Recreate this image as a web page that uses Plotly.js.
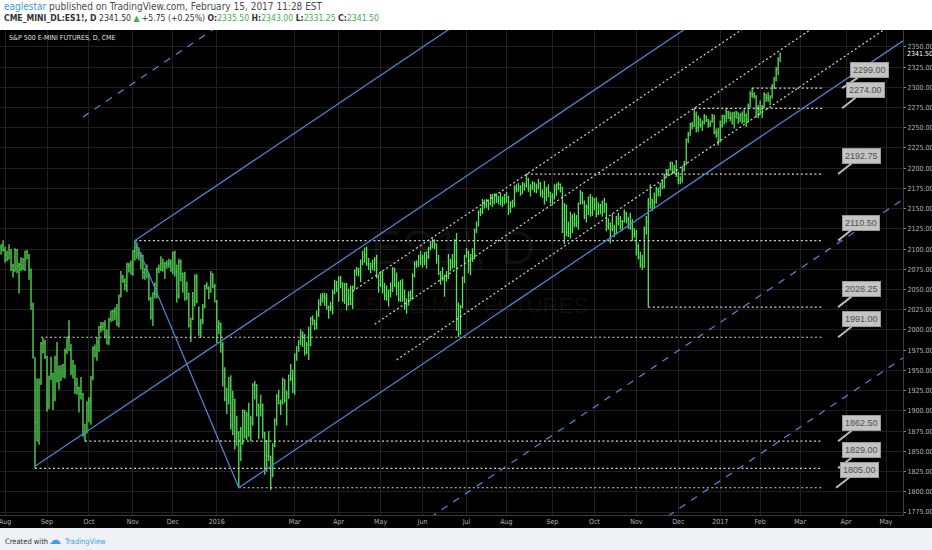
<!DOCTYPE html>
<html><head><meta charset="utf-8">
<script src="https://cdn.plot.ly/plotly-3.0.1.min.js"></script>
<style>html,body{margin:0;padding:0;background:#000;overflow:hidden}#chart{width:932px;height:550px}</style>
</head><body><div id="chart"></div>
<script>
// ---------------- DATA ----------------
const firstBarDate = '2015-07-29';
const holidays = ['2015-09-07','2015-11-26','2015-12-25','2016-01-01','2016-01-18','2016-02-15','2016-03-25','2016-05-30','2016-07-04','2016-09-05','2016-11-24','2016-12-26','2017-01-02','2017-01-16'];

const barOpen = [
/*Jul15*/2093,2102,2104,
/*Aug15*/2099,2093,2088,2095,2079,2073,2099,2079,2081,2078,2087,2097,2092,2074,2031,1966,1886,1863,1935,1983,1984,
/*Sep15*/1967,1909,1943,1946,1916,1965,1937,1947,1956,1948,1974,1991,1975,1948,1956,1933,1928,1922,1921,1871,1874,
/*Oct15*/1910,1913,1941,1977,1969,1985,2003,2004,2007,1993,1984,2013,2023,2023,2020,2008,2042,2065,2061,2055,2080,2079,
/*Nov15*/2069,2097,2102,2094,2092,2092,2071,2074,2068,2038,2016,2046,2044,2076,2074,2082,2079,2082,2081,2083,
/*Dec15*/2073,2095,2072,2042,2084,2070,2056,2040,2045,2005,2014,2036,2066,2028,1997,2012,2029,2055,2052,2047,2069,2054,
/*Jan16*/2035,2004,2008,1982,1935,1914,1916,1931,1882,1914,1872,1873,1851,1860,1898,1869,1895,1874,1885,
/*Feb16*/1932,1932,1895,1905,1907,1872,1845,1844,1843,1821,1857,1888,1918,1910,1910,1938,1913,1922,1944,1940,
/*Mar16*/1924,1970,1979,1986,1992,1994,1972,1982,1981,2014,2012,2008,2025,2032,2040,2042,2040,2027,2029,2028,2046,2055,
/*Apr16*/2051,2064,2058,2036,2057,2032,2039,2032,2053,2073,2074,2072,2085,2091,2093,2082,2082,2079,2082,2086,2066,
/*May16*/2056,2072,2054,2042,2041,2048,2049,2075,2055,2055,2038,2057,2038,2038,2031,2043,2039,2067,2081,2081,2090,
/*Jun16*/2088,2090,2096,2090,2101,2103,2110,2106,2087,2070,2066,2063,2068,2065,2077,2082,2079,2107,2031,1995,2029,2064,
/*Jul16*/2092,2096,2081,2093,2091,2123,2130,2145,2145,2156,2155,2159,2156,2166,2158,2168,2162,2162,2160,2163,
/*Aug16*/2167,2164,2150,2157,2157,2176,2174,2176,2169,2180,2178,2186,2174,2177,2181,2178,2177,2181,2170,2169,2164,2174,2170,
/*Sep16*/2165,2165,2174,2180,2180,2176,2122,2154,2121,2119,2140,2132,2131,2132,2157,2170,2158,2139,2152,2164,2145,
/*Oct16*/2161,2154,2144,2153,2154,2146,2156,2129,2132,2125,2126,2119,2132,2137,2134,2134,2144,2136,2132,2126,2119,
/*Nov16*/2119,2104,2090,2081,2078,2125,2134,2156,2161,2158,2158,2174,2171,2181,2177,2192,2197,2198,2207,2196,2199,
/*Dec16*/2193,2185,2186,2198,2206,2235,2241,2254,2253,2266,2250,2254,2253,2256,2264,2259,2255,2258,2262,2244,2244,
/*Jan17*/2233,2252,2264,2263,2270,2262,2262,2268,2264,2268,2262,2266,2258,2265,2260,2276,2292,2291,2289,2275,
/*Feb17*/2273,2274,2276,2291,2287,2287,2289,2301,2310,2322,2335.5
];
const barHigh = [
/*Jul15*/2105,2106,2111,
/*Aug15*/2103,2098,2106,2100,2082,2101,2100,2083,2090,2089,2098,2099,2094,2076,2034,1966,1940,1940,1985,1990,1988,
/*Sep15*/1968,1943,1967,1947,1968,1985,1956,1956,1958,1977,1992,2012,1983,1963,1957,1941,1930,1942,1922,1884,1912,
/*Oct15*/1917,1943,1980,1982,1991,2005,2010,2010,2012,2001,2015,2024,2025,2028,2032,2044,2073,2068,2064,2083,2083,2086,
/*Nov15*/2099,2110.5,2108,2102,2096,2093,2077,2081,2070,2041,2046,2059,2077,2081,2091,2088,2084,2086,2088,2087,
/*Dec15*/2097,2098,2081,2088,2087,2071,2072,2060,2046,2015,2047,2069,2069,2029,2014,2032,2056,2059,2054,2073,2070,2057,
/*Jan16*/2037,2012,2009,1985,1954,1929,1942,1944,1925,1915,1894,1875,1880,1902,1901,1899,1910,1894,1934,
/*Feb16*/1937,1933,1909,1920,1909,1874,1864,1875,1845,1860,1891,1921,1926,1914,1941,1939,1925,1945,1958,1951,
/*Mar16*/1971,1980,1988,2001,1998,1995,1985,2004,2016,2018,2013,2024,2038,2045,2046,2046,2045,2030,2035,2050,2062,2061,
/*Apr16*/2066,2067,2059,2058,2058,2051,2055,2055,2075,2078,2077,2087,2098,2102,2103,2089,2083,2087,2090,2093,2069,
/*May16*/2073,2072,2058,2055,2050,2059,2078,2077,2071,2060,2062,2063,2050,2039,2048,2049,2070,2085,2086,2093,2098,
/*Jun16*/2093,2096,2097,2103,2110,2113,2112,2107,2093,2073,2078,2068,2073,2094,2088,2094,2112,2120,2034,2031,2066,2093,
/*Jul16*/2101,2098,2094,2101,2125,2134,2148,2151,2162,2161,2162,2160,2168,2168,2169,2169,2166,2170,2165,2168,
/*Aug16*/2171,2166,2159,2161,2179,2180,2182,2179,2183,2182,2192.75,2188,2180,2184,2183,2181,2187,2183,2174,2184,2177,2180,2171,
/*Sep16*/2169,2180,2181,2183,2181,2177,2157,2155,2134,2146,2143,2145,2142,2157,2173,2171,2160,2155,2165,2168,2165,
/*Oct16*/2163,2164,2158,2156,2160,2163,2157,2138,2133,2144,2130,2141,2145,2141,2136,2149,2146,2140,2145,2137,2126,
/*Nov16*/2124,2107,2097,2093,2128,2141,2163,2180,2162,2170,2177,2176,2182,2185,2193,2199,2199,2208,2208,2204,2210,
/*Dec16*/2196,2190,2203,2209,2237,2245,2256,2257,2274,2270,2265,2262,2259,2267,2265,2261,2259,2267,2266,2249,2250,
/*Jan17*/2259,2266,2266,2274,2271,2270,2269,2270,2271,2269,2268,2270,2273,2268,2280,2295,2299,2294,2290,2278,
/*Feb17*/2284,2278,2294,2292,2294,2290,2304,2313,2325,2337,2343
];
const barLow = [
/*Jul15*/2090,2093,2097,
/*Aug15*/2083,2085,2087,2073,2065,2072,2070,2045,2073,2074,2073,2087,2062,2025,1965,1829,1862,1858,1932,1971,1964,
/*Sep15*/1899,1902,1938,1901,1912,1935,1926,1937,1941,1940,1970,1974,1944,1940,1921,1920,1898,1914,1868,1862.5,1872,
/*Oct15*/1886,1883,1938,1966,1962,1973,1997,1999,1990,1982,1981,2010,2011,2012,2005,2003,2040,2058,2049,2047,2071,2069,
/*Nov15*/2067,2086,2088,2086,2075,2063,2062,2064,2036,2013,2005,2039,2039,2070,2073,2072,2063,2076,2077,2072,
/*Dec15*/2069,2066,2034,2039,2060,2046,2036,2037,2003,1985,2012,2029,2033,1993,1990,2007,2027,2050,2038,2046,2052,2034,
/*Jan16*/1984,1995,1972,1930,1912,1896,1908,1877,1870,1852,1857,1805,1838,1858,1866,1864,1868,1862,1882,
/*Feb16*/1914,1893,1865,1893,1866,1821,1825,1838,1802,1818,1855,1882,1908,1895,1908,1910,1882,1915,1937,1922,
/*Mar16*/1920,1962,1973,1981,1979,1968,1970,1963,1980,2006,2000,2001,2016,2030,2034,2030,2025,2014,2023,2019,2044,2047,
/*Apr16*/2035,2052,2035,2032,2024,2030,2031,2026,2050,2067,2066,2059,2080,2083,2079,2074,2070,2074,2073,2064,2046,
/*May16*/2053,2045,2037,2036,2029,2040,2047,2053,2043,2035,2035,2035,2025,2020,2030,2036,2038,2065,2077,2078,2080,
/*Jun16*/2077,2080,2076,2088,2099,2101,2100,2082,2068,2056,2061,2041,2060,2063,2073,2076,2077,1999,1991,1994,2027,2058,
/*Jul16*/2089,2070,2068,2084,2087,2120,2128,2141,2143,2150,2151,2148,2154,2152,2155,2157,2155,2154,2152,2155,
/*Aug16*/2157,2142,2145,2151,2152,2170,2171,2166,2168,2172,2176,2171,2165,2173,2170,2169,2174,2165,2163,2155,2159,2164,2156,
/*Sep16*/2154,2161,2166,2173,2170,2120,2106,2116,2115,2113,2120,2127,2127,2124,2155,2155,2137,2133,2142,2140,2141,
/*Oct16*/2148,2139,2142,2143,2140,2145,2122,2124,2107,2122,2115,2118,2129,2124,2122,2133,2132,2125,2124,2110,2114,
/*Nov16*/2092,2087,2077,2074,2077,2118,2028.25,2150,2147,2150,2156,2165,2165,2174,2175,2189,2190,2197,2193,2193,2189,
/*Dec16*/2180,2180,2182,2196,2204,2231,2240,2248,2251,2244,2245,2250,2246,2254,2257,2250,2251,2256,2242,2238,2228,
/*Jan17*/2232,2250,2254,2256,2261,2258,2254,2249,2261,2255,2257,2255,2256,2251,2257,2275,2287,2286,2263,2262,
/*Feb17*/2266,2262,2274,2282,2282,2278,2286,2298,2307,2315,2331.25
];
const barClose = [
/*Jul15*/2103,2104,2099,
/*Aug15*/2093,2088,2095,2079,2073,2099,2079,2081,2078,2087,2097,2092,2074,2031,1966,1886,1863,1935,1983,1984,1967,
/*Sep15*/1909,1943,1946,1916,1965,1937,1947,1956,1948,1974,1991,1985,1948,1956,1933,1928,1922,1921,1871,1874,1910,
/*Oct15*/1913,1941,1977,1969,1985,2003,2004,2007,1993,1984,2013,2023,2023,2020,2008,2042,2065,2061,2055,2080,2079,2069,
/*Nov15*/2097,2102,2094,2092,2092,2071,2074,2068,2038,2016,2046,2044,2076,2074,2082,2079,2082,2081,2083,2073,
/*Dec15*/2095,2072,2042,2084,2070,2056,2040,2045,2005,2014,2036,2066,2034,1997,2012,2029,2055,2052,2047,2069,2054,2035,
/*Jan16*/2004,2008,1982,1935,1914,1916,1931,1882,1914,1872,1873,1851,1860,1898,1869,1895,1874,1885,1932,
/*Feb16*/1932,1895,1905,1907,1872,1845,1844,1843,1821,1857,1888,1918,1910,1910,1938,1913,1922,1944,1940,1924,
/*Mar16*/1970,1979,1986,1992,1994,1972,1982,1981,2014,2012,2008,2020,2032,2040,2042,2040,2027,2029,2028,2046,2055,2051,
/*Apr16*/2064,2058,2036,2057,2032,2039,2032,2053,2073,2074,2072,2085,2091,2093,2082,2082,2079,2082,2086,2066,2056,
/*May16*/2072,2054,2042,2041,2048,2049,2075,2055,2055,2038,2057,2038,2038,2031,2043,2039,2067,2081,2081,2090,2088,
/*Jun16*/2090,2096,2090,2101,2103,2110,2106,2087,2070,2066,2063,2068,2065,2077,2082,2079,2107,2031,1995,2029,2064,2092,
/*Jul16*/2096,2081,2093,2091,2123,2130,2145,2145,2156,2155,2159,2156,2166,2158,2168,2162,2162,2160,2163,2167,
/*Aug16*/2164,2150,2157,2157,2176,2174,2176,2169,2180,2178,2186,2174,2177,2181,2178,2177,2181,2170,2169,2164,2174,2170,2165,
/*Sep16*/2165,2174,2180,2180,2176,2122,2154,2121,2119,2141,2132,2131,2132,2157,2170,2158,2139,2152,2164,2145,2161,
/*Oct16*/2154,2144,2153,2154,2146,2156,2129,2132,2125,2126,2119,2132,2137,2134,2134,2144,2136,2132,2126,2119,2119,
/*Nov16*/2104,2090,2081,2078,2125,2134,2156,2161,2158,2158,2174,2171,2181,2177,2192,2197,2198,2207,2196,2199,2193,
/*Dec16*/2185,2186,2198,2206,2235,2241,2254,2253,2266,2250,2257,2253,2256,2264,2259,2255,2258,2262,2244,2244,2233,
/*Jan17*/2252,2264,2263,2270,2262,2262,2268,2264,2268,2262,2266,2258,2265,2260,2276,2292,2291,2289,2275,2273,
/*Feb17*/2274,2276,2291,2287,2287,2289,2301,2310,2322,2335.75,2341.5
];

// x-axis month labels
const tickDates = ['2015-08-03','2015-09-01','2015-10-01','2015-11-02','2015-12-01','2016-01-04','2016-03-01','2016-04-01','2016-05-02','2016-06-01','2016-07-01','2016-08-01','2016-09-01','2016-10-03','2016-11-01','2016-12-01','2017-01-03','2017-02-01','2017-03-01','2017-04-03','2017-05-01'];
const tickText  = ['Aug','Sep','Oct','Nov','Dec','2016','Mar','Apr','May','Jun','Jul','Aug','Sep','Oct','Nov','Dec','2017','Feb','Mar','Apr','May'];

// Pitchfork pivots (handle, upper, lower)
const pivotDates  = ['2015-08-24','2015-11-03','2016-01-20'];
const pivotPrices = [1831.5, 2110.5, 1805];
const forkExtraLevels = [-2, 2, 3];   // dashed extension lines (multiples of half-width)

// Dotted parallel channel lines (two anchor points each)
const chanStartDates   = ['2016-04-12','2016-04-27','2016-05-12'];
const chanStartPrices  = [2048, 2007, 1963];
const chanThroughDates = ['2016-10-26','2016-10-26','2016-10-26'];
const chanThroughPrices= [2277, 2219, 2157];

// Horizontal price levels with callout labels
const levelPrices     = [2299, 2274, 2192.75, 2110.5, 2028.25, 1991, 1862.5, 1829, 1805];
const levelStartDates = ['2017-01-26','2016-12-13','2016-08-15','2015-11-03','2016-11-09','2015-08-27','2015-09-29','2015-08-24','2016-01-20'];
const levelEndDate    = '2017-03-16';
const labelTipDates   = ['2017-03-30','2017-03-30','2017-03-28','2017-03-28','2017-03-28','2017-03-28','2017-03-28','2017-03-28','2017-03-27'];

const lastPrice = 2341.5;

// ---------------- BUILD ----------------
function buildCalendar(start, end, hol){
  const out=[], hs=new Set(hol);
  const d=new Date(start+'T00:00:00Z'), e=new Date(end+'T00:00:00Z');
  while(d<=e){
    const wd=d.getUTCDay(), s=d.toISOString().slice(0,10);
    if(wd!==0 && wd!==6 && !hs.has(s)) out.push(s);
    d.setUTCDate(d.getUTCDate()+1);
  }
  return out;
}
const cal = buildCalendar(firstBarDate, '2017-07-31', holidays);
const idx = d => cal.indexOf(d);
const n = Math.min(barOpen.length, barHigh.length, barLow.length, barClose.length);
const xs = []; for(let i=0;i<n;i++) xs.push(i);
const X_END = 480;

const F = '"Liberation Sans Narrow","DejaVu Sans Condensed",Roboto,"Liberation Sans",Arial,sans-serif';
const GREEN = '#55e255';
const BLUE = '#4f7fd0';
const DOT = '#d2d2d2';

const traces = [];
traces.push({
  type:'ohlc', x:xs, open:barOpen.slice(0,n), high:barHigh.slice(0,n), low:barLow.slice(0,n), close:barClose.slice(0,n),
  increasing:{line:{color:GREEN,width:1.3}}, decreasing:{line:{color:GREEN,width:1.3}},
  tickwidth:0.4, hoverinfo:'skip', showlegend:false
});

function addLine(x0,y0,x1,y1,color,width,dash){
  traces.push({type:'scatter',mode:'lines',x:[x0,x1],y:[y0,y1],line:{color:color,width:width,dash:dash||'solid'},hoverinfo:'skip',showlegend:false});
}

// horizontal dotted levels
const iEnd = idx(levelEndDate);
levelPrices.forEach((p,k)=>{ addLine(idx(levelStartDates[k]),p,iEnd,p,DOT,1.2,'2px,2.5px'); });

// dotted channel lines
chanStartDates.forEach((d,k)=>{
  const x0=idx(d), y0=chanStartPrices[k], x1=idx(chanThroughDates[k]), y1=chanThroughPrices[k];
  const s=(y1-y0)/(x1-x0);
  addLine(x0,y0,X_END,y0+s*(X_END-x0),DOT,1.2,'2px,2.5px');
});

// pitchfork
const [iA,iB,iC] = pivotDates.map(idx);
const [pA,pB,pC] = pivotPrices;
const mX=(iB+iC)/2, mY=(pB+pC)/2;
const slope=(mY-pA)/(mX-iA);
addLine(iA,pA,X_END,pA+slope*(X_END-iA),BLUE,1.3);
addLine(iB,pB,X_END,pB+slope*(X_END-iB),BLUE,1.3);
addLine(iC,pC,X_END,pC+slope*(X_END-iC),BLUE,1.3);
addLine(iB,pB,iC,pC,BLUE,1.3);
forkExtraLevels.forEach(k=>{
  const t=0.5+0.5*k, x0=iB+t*(iC-iB), y0=pB+t*(pC-pB);
  addLine(x0,y0,X_END,y0+slope*(X_END-x0),BLUE,1.3,'7px,7px');
});

// layout geometry (pixels)
const PT=30, PB=515, PW=903, PH=PB-PT;
const py = v => (PB - v)/PH;   // pixel-row -> paper y
const px = v => v/PW;          // pixel-col -> paper x

const annotations = [];
// watermark
annotations.push({xref:'paper',yref:'paper',x:px(452),y:py(248),text:'ES1!, D',showarrow:false,font:{family:'Liberation Sans,Arial',size:48,color:'rgba(255,255,255,0.06)'}});
annotations.push({xref:'paper',yref:'paper',x:px(453),y:py(305),text:'S&P 500 E-MINI FUTURES',showarrow:false,font:{family:'Liberation Sans,Arial',size:22,color:'rgba(255,255,255,0.06)'}});
// chart legend
annotations.push({xref:'paper',yref:'paper',x:px(7),y:py(38),xanchor:'left',yanchor:'middle',text:'S&P 500 E-MINI FUTURES, D, CME',showarrow:false,font:{family:F,size:7,color:'#e0e0e0'}});
// header
annotations.push({xref:'paper',yref:'paper',x:px(2),y:py(7),xanchor:'left',yanchor:'middle',showarrow:false,
  text:'<span style="color:#3d9ae8">eaglestar</span> published on TradingView.com, February 15, 2017 11:28 EST',
  font:{family:F,size:10,color:'#4a4a4a'}});
const G='<span style="color:#3cb043">';
annotations.push({xref:'paper',yref:'paper',x:px(2),y:py(18),xanchor:'left',yanchor:'middle',showarrow:false,
  text:'<b>CME_MINI_DL:ES1!, D</b> 2341.50 '+G+'▲</span> +5.75 (+0.25%) <b>O:</b>'+G+'2335.50</span> <b>H:</b>'+G+'2343.00</span> <b>L:</b>'+G+'2331.25</span> <b>C:</b>'+G+'2341.50</span>',
  font:{family:F,size:8.6,color:'#333'}});
// footer
annotations.push({xref:'paper',yref:'paper',x:px(3),y:py(541),xanchor:'left',yanchor:'middle',showarrow:false,text:'Created with',font:{family:F,size:7.5,color:'#333'}});
annotations.push({xref:'paper',yref:'paper',x:px(47),y:py(540),xanchor:'left',yanchor:'middle',showarrow:false,text:'☁',font:{family:'DejaVu Sans',size:12,color:'#3f9ee0'}});
annotations.push({xref:'paper',yref:'paper',x:px(62),y:py(541),xanchor:'left',yanchor:'middle',showarrow:false,text:'TradingView',font:{family:F,size:7.5,color:'#4aa3df'}});
// last price on axis
annotations.push({xref:'paper',yref:'y',x:px(905),y:lastPrice,xanchor:'left',yanchor:'middle',showarrow:false,text:'2341.50',font:{family:F,size:7,color:'#ffffff'}});
// level callouts
levelPrices.forEach((p,k)=>{
  annotations.push({xref:'x',yref:'y',x:idx(labelTipDates[k]),y:p,text:p.toFixed(2),showarrow:true,arrowhead:0,arrowwidth:2,arrowcolor:'#b9b9b9',
    ax:(k===0?27:23),ay:-18,standoff:0,font:{family:'Liberation Sans,Arial',size:9,color:'#505050'},bgcolor:'#c4c4c4',bordercolor:'#9a9a9a',borderwidth:1,borderpad:2});
});

const shapes = [
  {type:'rect',xref:'paper',yref:'paper',x0:-0.01,x1:1.05,y0:1,y1:py(-2),fillcolor:'#ffffff',line:{width:0},layer:'below'},
  {type:'rect',xref:'paper',yref:'paper',x0:-0.01,x1:1.05,y0:py(552),y1:py(528),fillcolor:'#eef1f5',line:{width:0},layer:'below'}
];

const layout = {
  width:932, height:550, margin:{l:0,r:29,t:PT,b:550-PB,pad:0},
  paper_bgcolor:'#000', plot_bgcolor:'#000', showlegend:false,
  xaxis:{range:[0.47,452.5], tickmode:'array', tickvals:tickDates.map(idx), ticktext:tickText, ticklabeloverflow:'allow',
    showgrid:true, gridcolor:'#202020', gridwidth:1, zeroline:false, showline:true, linecolor:'#3c3c3c',
    ticks:'', tickfont:{family:F,size:7,color:'#b5b5b5'}, rangeslider:{visible:false}, fixedrange:true},
  yaxis:{side:'right', range:[1771.3,2370.8], tick0:0, dtick:25, tickformat:'.2f',
    showgrid:true, gridcolor:'#202020', gridwidth:1, zeroline:false, showline:true, linecolor:'#3c3c3c',
    ticks:'outside', ticklen:2, tickcolor:'#888', tickfont:{family:F,size:7,color:'#b5b5b5'}, fixedrange:true},
  shapes:shapes, annotations:annotations
};

Plotly.newPlot('chart', traces, layout, {displayModeBar:false, staticPlot:true});
</script>
</body></html>
